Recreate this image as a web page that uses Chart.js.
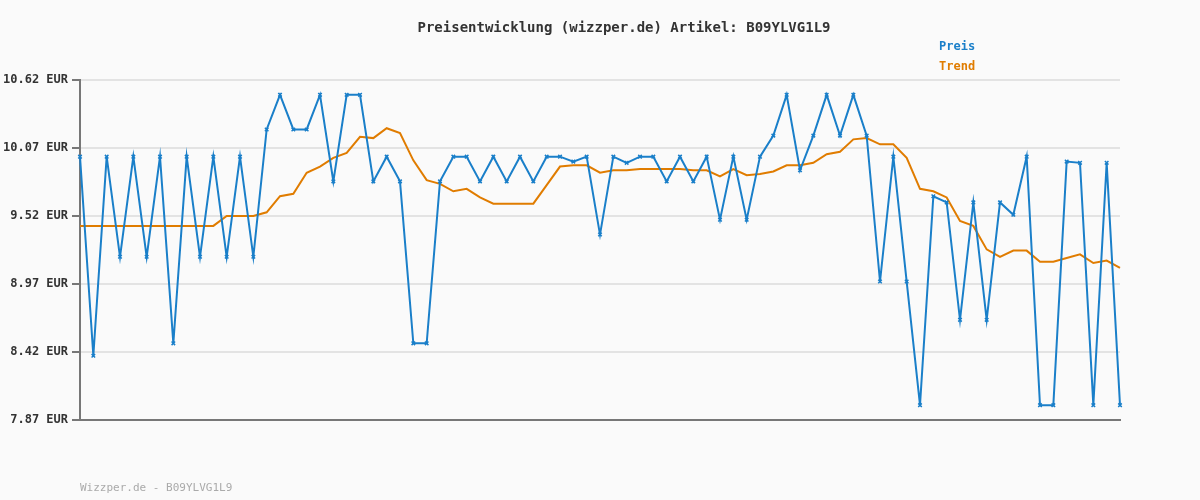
<!DOCTYPE html>
<html>
<head>
<meta charset="utf-8">
<script src="https://cdn.jsdelivr.net/npm/chart.js@4"></script>
<style>
  html, body { margin: 0; padding: 0; background: #fafafa; }
  #wrap { width: 1200px; height: 500px; position: relative; }
</style>
</head>
<body>
<div id="wrap"><canvas id="priceChart"></canvas></div>
<script>
// Price history for B09YLVG1L9
const priceValues = [
  10.00, 8.39, 10.00, 9.19, 10.00, 9.19, 10.00, 8.49, 10.00, 9.19,
  10.00, 9.19, 10.00, 9.19, 10.22, 10.50, 10.22, 10.22, 10.50, 9.80,
  10.50, 10.50, 9.80, 10.00, 9.80, 8.49, 8.49, 9.80, 10.00, 10.00,
  9.80, 10.00, 9.80, 10.00, 9.80, 10.00, 10.00, 9.96, 10.00, 9.37,
  10.00, 9.95, 10.00, 10.00, 9.80, 10.00, 9.80, 10.00, 9.49, 10.00,
  9.49, 10.00, 10.17, 10.50, 9.89, 10.17, 10.50, 10.17, 10.50, 10.17,
  8.99, 10.00, 8.99, 7.99, 9.68, 9.63, 8.68, 9.63, 8.68, 9.63,
  9.53, 10.00, 7.99, 7.99, 9.96, 9.95, 7.99, 9.95, 7.99
];
const trendValues = [
  9.44, 9.44, 9.44, 9.44, 9.44, 9.44, 9.44, 9.44, 9.44, 9.44,
  9.44, 9.52, 9.52, 9.52, 9.55, 9.68, 9.70, 9.87, 9.92, 9.99,
  10.03, 10.16, 10.15, 10.23, 10.19, 9.97, 9.81, 9.78, 9.72, 9.74,
  9.67, 9.62, 9.62, 9.62, 9.62, 9.77, 9.92, 9.93, 9.93, 9.87,
  9.89, 9.89, 9.90, 9.90, 9.90, 9.90, 9.89, 9.89, 9.84, 9.90,
  9.85, 9.86, 9.88, 9.93, 9.93, 9.95, 10.02, 10.04, 10.14, 10.15,
  10.10, 10.10, 9.99, 9.74, 9.72, 9.67, 9.48, 9.44, 9.25, 9.19,
  9.24, 9.24, 9.15, 9.15, 9.18, 9.21, 9.14, 9.16, 9.10
];
const labels = priceValues.map((v, i) => i);
const yTicks = [7.87, 8.42, 8.97, 9.52, 10.07, 10.62];
const titleText = 'Preisentwicklung (wizzper.de) Artikel: B09YLVG1L9';
const footerText = 'Wizzper.de - B09YLVG1L9';

const mono = '"DejaVu Sans Mono", monospace';

// Title, legend and footer drawn as plain text
const textPlugin = {
  id: 'texts',
  afterDraw(chart) {
    const c = chart.ctx;
    c.save();
    c.textBaseline = 'middle';
    c.font = 'bold 14px ' + mono;
    c.fillStyle = '#333';
    c.textAlign = 'center';
    c.fillText(titleText, 624, 28);
    c.font = 'bold 12px ' + mono;
    c.textAlign = 'left';
    c.fillStyle = '#1a7fc9';
    c.fillText('Preis', 939, 47);
    c.fillStyle = '#e07c00';
    c.fillText('Trend', 939, 67);
    c.font = '11px ' + mono;
    c.fillStyle = '#aaa';
    c.fillText(footerText, 80, 488);
    c.restore();
  }
};

new Chart(document.getElementById('priceChart'), {
  type: 'line',
  data: {
    labels: labels,
    datasets: [
      {
        label: 'Preis',
        data: priceValues,
        borderColor: '#1a7fc9',
        backgroundColor: '#1a7fc9',
        borderWidth: 2,
        pointStyle: 'crossRot',
        pointRadius: 2.5,
        pointBorderWidth: 1.5,
        tension: 0
      },
      {
        label: 'Trend',
        data: trendValues,
        borderColor: '#e07c00',
        borderWidth: 2,
        pointRadius: 0,
        tension: 0
      }
    ]
  },
  options: {
    responsive: true,
    maintainAspectRatio: false,
    animation: false,
    layout: { padding: { top: 80, bottom: 80, left: 0, right: 80 } },
    plugins: { legend: { display: false }, title: { display: false }, tooltip: { enabled: false } },
    scales: {
      x: {
        type: 'category',
        offset: false,
        ticks: { display: false },
        grid: { display: false },
        border: { color: '#777', width: 2 },
        afterFit(scale) { scale.height = 0; }
      },
      y: {
        min: 7.87,
        max: 10.62,
        afterBuildTicks(scale) { scale.ticks = yTicks.map(v => ({ value: v })); },
        afterFit(scale) { scale.width = 80; },
        ticks: {
          color: '#333',
          font: { family: mono, size: 12, weight: 'bold' },
          padding: 4,
          callback: v => v.toFixed(2) + ' EUR'
        },
        grid: { color: '#e3e3e3', lineWidth: 2, tickLength: 8, tickColor: '#777' },
        border: { color: '#777', width: 2 }
      }
    }
  },
  plugins: [textPlugin]
});
</script>
</body>
</html>
